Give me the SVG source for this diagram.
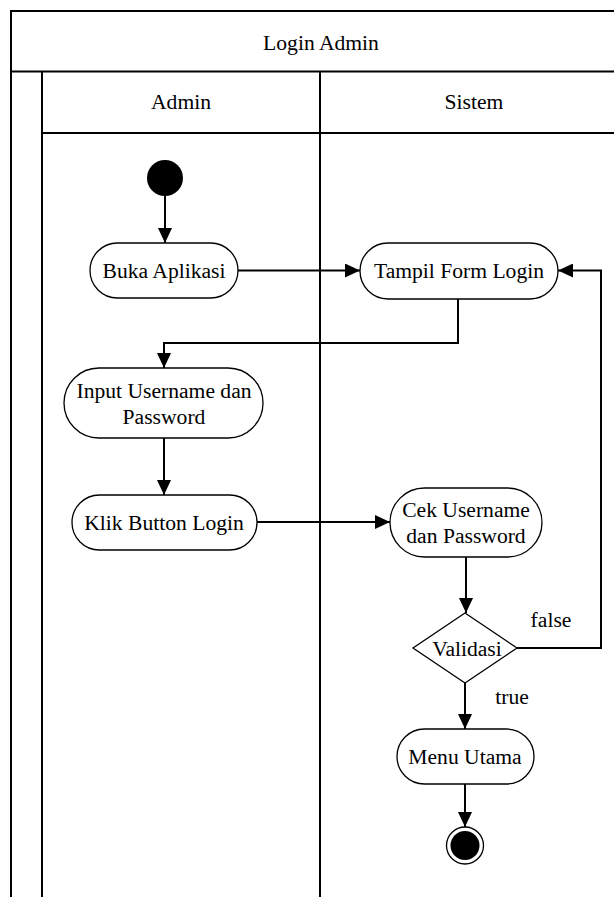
<svg xmlns="http://www.w3.org/2000/svg" width="614" height="897" viewBox="0 0 614 897">
  <style>
    .frame { stroke: #000; stroke-width: 2; fill: none; }
    .node { fill: #fff; stroke: #000; stroke-width: 1.3; }
    .edge { stroke: #000; stroke-width: 2; fill: none; }
    text { font-family: "Liberation Serif", "Times New Roman", serif; font-size: 21.6px; fill: #000; text-anchor: middle; }
  </style>
  <defs>
    <marker id="arrow" markerUnits="userSpaceOnUse" markerWidth="15" markerHeight="14" refX="15" refY="7" orient="auto">
      <path d="M0,0 L15,7 L0,14 Z" fill="#000"/>
    </marker>
  </defs>
  <rect width="614" height="897" fill="#fff"/>

  <!-- swimlane frame -->
  <g id="pool">
    <path class="frame" d="M11,897 V11 H614"/>
    <path class="frame" d="M11,71.5 H614" stroke-width="2.5"/>
    <path class="frame" d="M42,897 V71.5"/>
    <path class="frame" d="M42,133 H614"/>
    <path class="frame" d="M320,897 V71.5"/>
    <text x="321" y="50">Login Admin</text>
    <text x="181" y="109">Admin</text>
    <text x="474" y="109">Sistem</text>
  </g>

  <!-- connectors -->
  <g id="connectors">
    <path class="edge" d="M165,196 V243" marker-end="url(#arrow)"/>
    <path class="edge" d="M238,270.5 H360" marker-end="url(#arrow)"/>
    <path class="edge" d="M458,299 V343 H164 V368" marker-end="url(#arrow)"/>
    <path class="edge" d="M164,438 V495" marker-end="url(#arrow)"/>
    <path class="edge" d="M257,522 H390" marker-end="url(#arrow)"/>
    <path class="edge" d="M466,557 V613" marker-end="url(#arrow)"/>
    <path class="edge" d="M517,648 H601 V270.5 H558" marker-end="url(#arrow)"/>
    <path class="edge" d="M465,683 V729" marker-end="url(#arrow)"/>
    <path class="edge" d="M465,784 V827" marker-end="url(#arrow)"/>
    <text x="551" y="627">false</text>
    <text x="512" y="704">true</text>
  </g>

  <g id="start">
    <circle cx="165" cy="178" r="18" fill="#000"/>
  </g>

  <g id="buka-aplikasi">
    <rect class="node" x="90" y="243" width="148" height="55" rx="27.5"/>
    <text x="164" y="278">Buka Aplikasi</text>
  </g>

  <g id="tampil-form-login">
    <rect class="node" x="360" y="243" width="198" height="56" rx="28"/>
    <text x="459" y="278">Tampil Form Login</text>
  </g>

  <g id="input-username">
    <rect class="node" x="64" y="368" width="199" height="70" rx="35"/>
    <text x="164" y="398">Input Username dan</text>
    <text x="164" y="424">Password</text>
  </g>

  <g id="klik-button-login">
    <rect class="node" x="72" y="495" width="185" height="55" rx="27.5"/>
    <text x="164" y="530">Klik Button Login</text>
  </g>

  <g id="cek-username">
    <rect class="node" x="390" y="488" width="152" height="69" rx="34.5"/>
    <text x="466" y="517">Cek Username</text>
    <text x="466" y="543">dan Password</text>
  </g>

  <g id="validasi">
    <polygon class="node" points="465,613 517,648 465,683 413,648"/>
    <text x="467" y="656">Validasi</text>
  </g>

  <g id="menu-utama">
    <rect class="node" x="397" y="729" width="137" height="55" rx="27.5"/>
    <text x="465" y="764">Menu Utama</text>
  </g>

  <g id="end">
    <circle cx="465" cy="845.5" r="18.5" fill="#fff" stroke="#000" stroke-width="1.3"/>
    <circle cx="465" cy="845.5" r="14.5" fill="#000"/>
  </g>
</svg>
